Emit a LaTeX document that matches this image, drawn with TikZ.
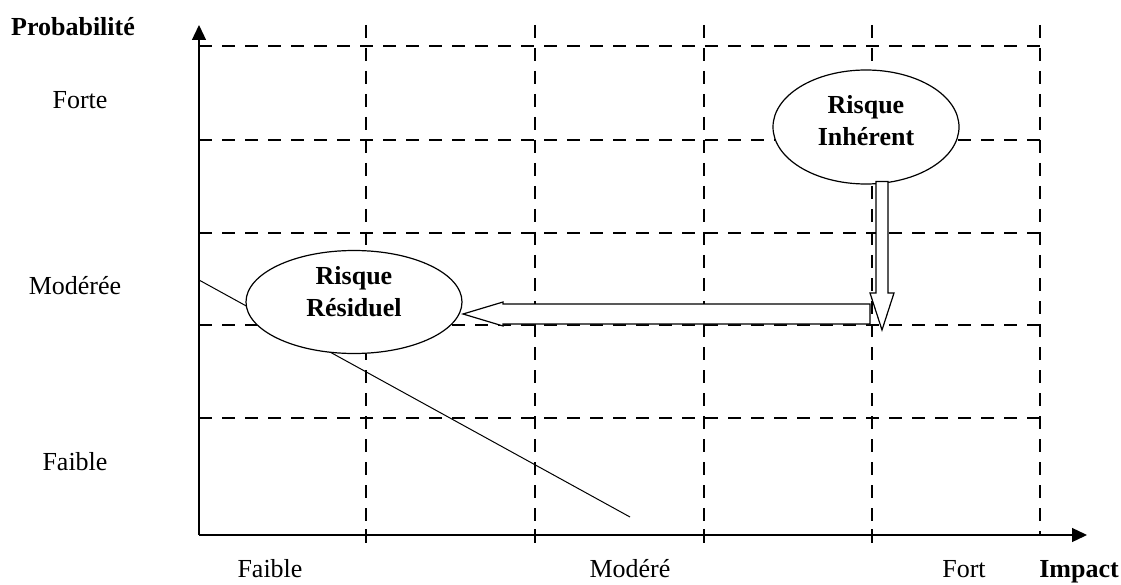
\documentclass[tikz,border=0pt]{standalone}
\usepackage{fontspec}
\setmainfont{Liberation Serif}
\usetikzlibrary{shapes.geometric,arrows.meta,calc}
\begin{document}
\begin{tikzpicture}[x=1pt,y=-1pt,
  gridline/.style={line width=2.7pt, dash pattern=on 13pt off 10pt},
  axisline/.style={line width=1.3pt, -{Triangle[length=15pt,width=14pt]}},
  lab/.style={font=\fontsize{26}{30}\selectfont, inner sep=0pt},
  blab/.style={font=\fontsize{26}{30}\selectfont\bfseries, inner sep=0pt},
  bubble/.style={ellipse, draw, line width=1.2pt, fill=white, inner sep=0pt},
  fatarrow/.style={draw, line width=1.2pt, fill=white, line join=miter}]
\useasboundingbox (0,0) rectangle (1121,585);
% grid
\foreach \y in {46,140,233,325,418} \draw[gridline] (199,\y) -- (1050,\y);
\foreach \x in {366,535,704,872,1040} \draw[gridline] (\x,25) -- (\x,535);
% axes
\coordinate (O) at (199,535);
\coordinate (ytop) at (199,25);
\coordinate (xend) at (1087,535);
\foreach \x in {366,535,704,872} \draw[line width=1.3pt] (\x,529) -- (\x,543);
\draw[axisline] (O) -- (ytop);
\draw[axisline] (O) -- (xend);
% diagonal
\coordinate (d1) at (199,280);
\coordinate (d2) at (630,517);
\draw[line width=1pt] (d1) -- (d2);
% ellipses
\node[bubble, minimum width=186pt, minimum height=114pt] (inh) at (866,127) {};
\node[bubble, minimum width=216pt, minimum height=103pt] (res) at (354,302) {};
\node[blab, align=center] (inhtext) at (866,121) {Risque\\[2pt]Inhérent};
\node[blab, align=center] (restext) at (354,292) {Risque\\[2pt]Résiduel};
% down arrow
\coordinate (dtop) at ($(inh.south)+(16,-3)$);
\coordinate (dtip) at (882,330);
\draw[fatarrow] ($(dtop)+(-6,0)$) -- ($(dtip)+(-6,-37)$) -- ($(dtip)+(-12,-37)$) -- (dtip)
  -- ($(dtip)+(12,-37)$) -- ($(dtip)+(6,-37)$) -- ($(dtop)+(6,0)$) -- cycle;
% left arrow
\coordinate (ltip) at (463,314);
\coordinate (lend) at (870,314);
\draw[fatarrow] ($(lend)+(0,-10)$) -- ($(ltip)+(40,-10)$) -- ($(ltip)+(40,-12)$) -- (ltip)
  -- ($(ltip)+(40,12)$) -- ($(ltip)+(40,10)$) -- ($(lend)+(0,10)$) -- cycle;
% labels
\node[blab] (prob) at (73,27) {Probabilité};
\node[lab] (forte) at (80,100) {Forte};
\node[lab] (moderee) at (75,286) {Modérée};
\node[lab] (faibley) at (75,462) {Faible};
\node[lab, anchor=base] (faiblex) at (270,577) {Faible};
\node[lab, anchor=base] (modere) at (630,577) {Modéré};
\node[lab, anchor=base] (fort) at (964,577) {Fort};
\node[blab, anchor=base] (impact) at (1079,577) {Impact};
\end{tikzpicture}
\end{document}
